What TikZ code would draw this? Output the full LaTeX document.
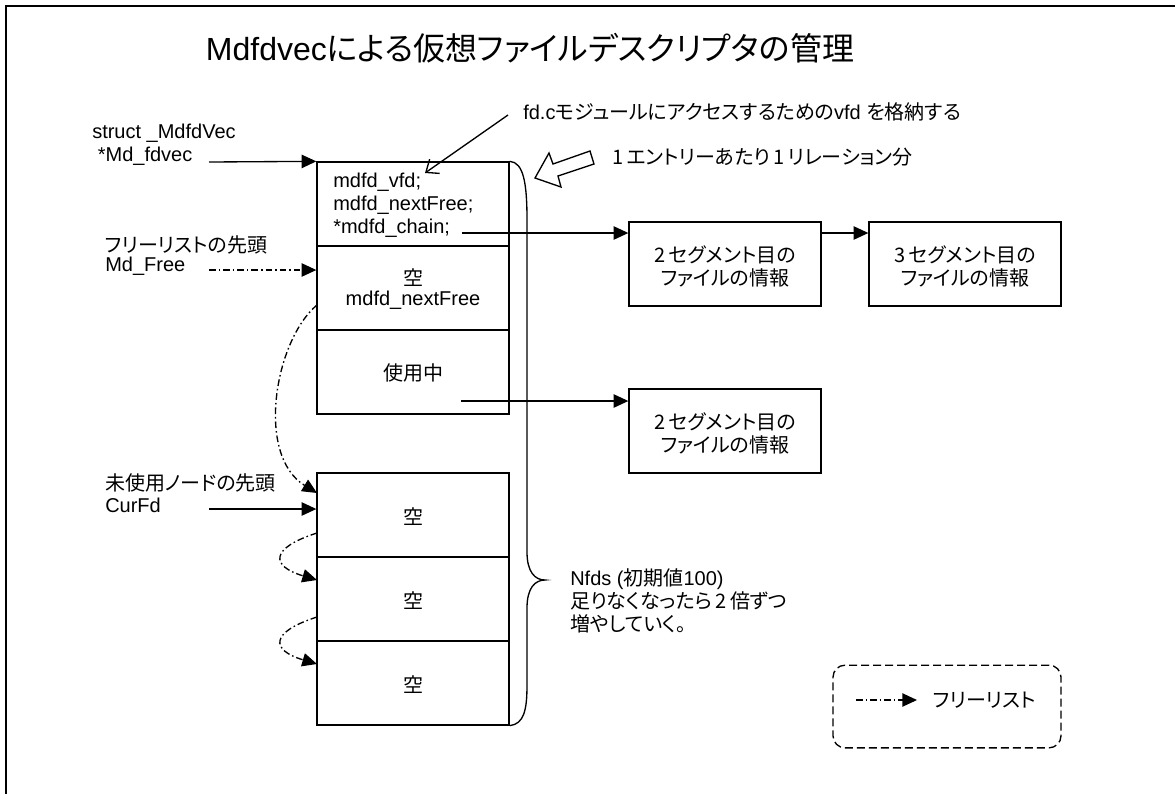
\documentclass[tikz,border=0pt]{standalone}
\usepackage{fontspec}
\setmainfont{Liberation Sans}
\newfontfamily\jp{Noto Sans CJK JP}[RawFeature={+palt}]
\usetikzlibrary{arrows.meta}
\begin{document}
\begin{tikzpicture}[x=0.75pt,y=-0.75pt,
  every node/.style={inner sep=0pt},
  box/.style={draw, line width=1pt, minimum width=144pt, minimum height=63pt},
  t15/.style={font=\fontsize{15pt}{17.25pt}\selectfont},
  j15/.style={font=\jp\fontsize{15pt}{17.25pt}\selectfont},
  ln/.style={line width=1pt},
  arr/.style={line width=1pt, -{Triangle[length=11pt,width=10pt]}},
  fl/.style={arr, dash pattern=on 5pt off 2.2pt on 1.2pt off 2.2pt},
]
\useasboundingbox (0,0) rectangle (1175,794);
% frame
\draw[line width=1.2pt] (6,794) -- (6,6) -- (1175,6);

% title
\node[font=\fontsize{24pt}{28pt}\selectfont] (title) at (530,48) {Mdfdvec{\jp による仮想ファイルデスクリプタの管理}};

% main column
\node[box] (r1) at (413,204) {};
\node[box] (r2) at (413,288) {};
\node[box] (r3) at (413,372) {};
\node[box] (r4) at (413,515) {};
\node[box] (r5) at (413,599) {};
\node[box] (r6) at (413,683) {};

\node[t15, anchor=west, align=left] (r1t) at (333,205) {mdfd\_vfd;\\mdfd\_nextFree;\\*mdfd\_chain;};
\node[j15] (r2a) at (413,278) {空};
\node[t15] (r2b) at (413,300) {mdfd\_nextFree};
\node[j15] (r3t) at (413,373) {使用中};
\node[j15] (r4t) at (413,517) {空};
\node[j15] (r5t) at (413,601) {空};
\node[j15] (r6t) at (413,685) {空};

% segment boxes
\node[box] (A) at (725,264) {};
\node[box] (B) at (965,264) {};
\node[box] (C) at (725,431) {};
\node[j15, align=center] (At) at (725,266) {2\,セグメント目の\\ファイルの情報};
\node[j15, align=center] (Bt) at (965,266) {3\,セグメント目の\\ファイルの情報};
\node[j15, align=center] (Ct) at (725,433) {2\,セグメント目の\\ファイルの情報};

% left labels
\node[t15, anchor=west, align=left] (l1) at (92,145) {struct \_MdfdVec\\\ *Md\_fdvec};
\node[j15, anchor=west] (l2a) at (105,245) {フリーリストの先頭};
\node[t15, anchor=west] (l2b) at (105,266) {Md\_Free};
\node[j15, anchor=west] (l3a) at (105,483) {未使用ノードの先頭};
\node[t15, anchor=west] (l3b) at (105,505) {CurFd};

\coordinate (s1) at (209,162);
\coordinate (s2) at (209,270);
\coordinate (s3) at (209,509);
\draw[arr] (s1) -- (r1.north west);
\draw[fl] (s2) -- (s2 -| r2.west);
\draw[arr] (s3) -- (s3 -| r4.west);

% chain arrows
\coordinate (c1) at (462,233);
\coordinate (c2) at (461,401);
\draw[arr] (c1) -- (c1 -| A.west);
\draw[arr] (A.east |- c1) -- (B.west |- c1);
\draw[arr] (c2) -- (c2 -| C.west);

% free list curves
\coordinate (f0) at (317,305);
\coordinate (f1) at (317,493);
\coordinate (f2) at (317,533);
\coordinate (f3) at (317,580);
\coordinate (f4) at (317,617);
\coordinate (f5) at (317,664);
\draw[fl] (f0) .. controls (275,340) and (255,455) .. (f1);
\draw[fl] (f2) .. controls (270,548) and (270,566) .. (f3);
\draw[fl] (f4) .. controls (270,632) and (270,650) .. (f5);

% brace
\draw[ln] (r1.north east) .. controls (524,162) and (527,185) .. (527,220) -- (527,552)
  .. controls (527,572) and (535,580) .. (545,580)
  .. controls (535,580) and (527,588) .. (527,608) -- (527,685)
  .. controls (527,710) and (524,724) .. (r6.south east);
\node[j15, anchor=west, align=left] (nf) at (570,601) {{\fontspec{Liberation Sans}Nfds (}初期値{\fontspec{Liberation Sans}100)}\\足りなくなったら\,2\,倍ずつ\\増やしていく。};

% annotation
\node[t15, anchor=west] (ann) at (523,112) {fd.c{\jp モジュールにアクセスするための}vfd {\jp を格納する}};
\coordinate (a0) at (508,115);
\coordinate (a1) at (425,173);
\draw[line width=1pt, -{Straight Barb[length=8pt,width=13pt]}] (a0) -- (a1);

% block arrow
\draw[line width=1pt, fill=white] (535,178) -- (549,153) -- (553,164) -- (590,151) -- (594,164) -- (558,176) -- (561,187) -- cycle;
\node[j15, anchor=west] (ent) at (612,157) {1\,エントリーあたり\,1\,リレーション分};

% legend
\node[draw, dash pattern=on 6pt off 3pt, line width=1pt, rounded corners=9pt, minimum width=171pt, minimum height=62pt] (leg) at (947,706.5) {};
\coordinate (g0) at (856,700);
\coordinate (g1) at (917,700);
\node[j15, anchor=west] (legt) at (933,700) {フリーリスト};
\draw[fl] (g0) -- (g1);
\end{tikzpicture}
\end{document}
